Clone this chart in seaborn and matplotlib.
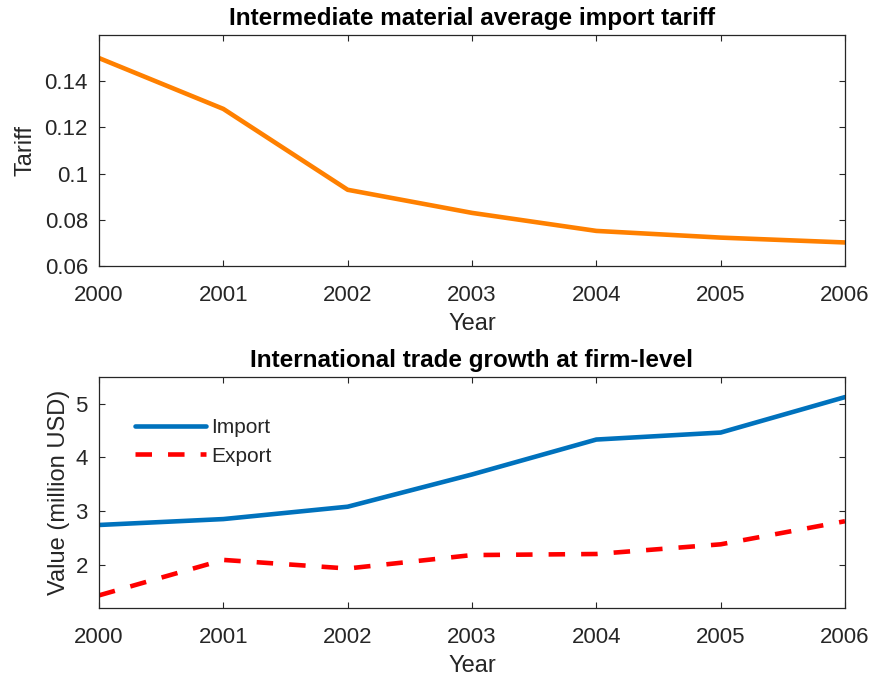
import numpy as np
import pandas as pd
import matplotlib
matplotlib.use("Agg")
import matplotlib.pyplot as plt
import seaborn as sns

years = [2000, 2001, 2002, 2003, 2004, 2005, 2006]
tariff = [0.150, 0.128, 0.093, 0.083, 0.0752, 0.0723, 0.0702]
imports = [2.74, 2.85, 3.08, 3.68, 4.33, 4.46, 5.12]
exports = [1.43, 2.09, 1.93, 2.18, 2.20, 2.38, 2.81]
series_names = ["Import", "Export"]

sns.set_theme(style="white")
plt.rcParams["font.family"] = ["Liberation Sans", "DejaVu Sans"]

INK = "#262626"
LW = 3.3

fig = plt.figure(figsize=(8.73, 6.83), dpi=100)
ax1 = fig.add_axes([0.1134, 0.6105, 0.8545, 0.3383])
ax2 = fig.add_axes([0.1134, 0.1102, 0.8545, 0.3383])

tariff_df = pd.DataFrame({"Year": years, "Tariff": tariff})
sns.lineplot(data=tariff_df, x="Year", y="Tariff", ax=ax1,
             color="#FF8000", linewidth=LW)

trade_df = pd.concat([
    pd.DataFrame({"Year": years, "Value": imports, "Series": series_names[0]}),
    pd.DataFrame({"Year": years, "Value": exports, "Series": series_names[1]}),
])
sns.lineplot(data=trade_df, x="Year", y="Value", hue="Series", style="Series",
             palette={"Import": "#0072BD", "Export": "#FF0000"},
             dashes={"Import": "", "Export": (3.6, 3.5)},
             linewidth=LW, ax=ax2)

ax1.set_xlim(2000, 2006)
ax1.set_ylim(0.06, 0.16)
ax1.set_yticks([0.06, 0.08, 0.10, 0.12, 0.14])
ax1.set_yticklabels(["0.06", "0.08", "0.1", "0.12", "0.14"])
ax1.set_title("Intermediate material average import tariff",
              fontsize=17.5, fontweight="bold", color="black", pad=7)
ax1.set_ylabel("Tariff", fontsize=17, color=INK, labelpad=6)

ax2.set_xlim(2000, 2006)
ax2.set_ylim(1.2, 5.5)
ax2.set_yticks([2, 3, 4, 5])
ax2.set_title("International trade growth at firm-level",
              fontsize=17.5, fontweight="bold", color="black", pad=7)
ax2.set_ylabel("Value (million USD)", fontsize=17, color=INK, labelpad=4)

for ax in (ax1, ax2):
    ax.set_xticks(years)
    ax.set_xticklabels([str(y) for y in years])
    ax.set_xlabel("Year", fontsize=17, color=INK, labelpad=5)
    ax.tick_params(direction="in", length=4.5, width=0.8, colors=INK,
                   labelsize=16, top=True, right=True, bottom=True, left=True)
    ax.tick_params(axis="x", pad=14)
    ax.tick_params(axis="y", pad=8)
    for s in ax.spines.values():
        s.set_color(INK)
        s.set_linewidth(0.9)
        s.set_visible(True)

handles, labels = ax2.get_legend_handles_labels()
ax2.legend(handles, labels, loc="upper left", bbox_to_anchor=(0.048, 0.82),
           frameon=False, fontsize=15, handlelength=3.4, handletextpad=0.25,
           labelspacing=0.45, borderaxespad=0, borderpad=0)

fig.savefig("out.png", dpi=100)
